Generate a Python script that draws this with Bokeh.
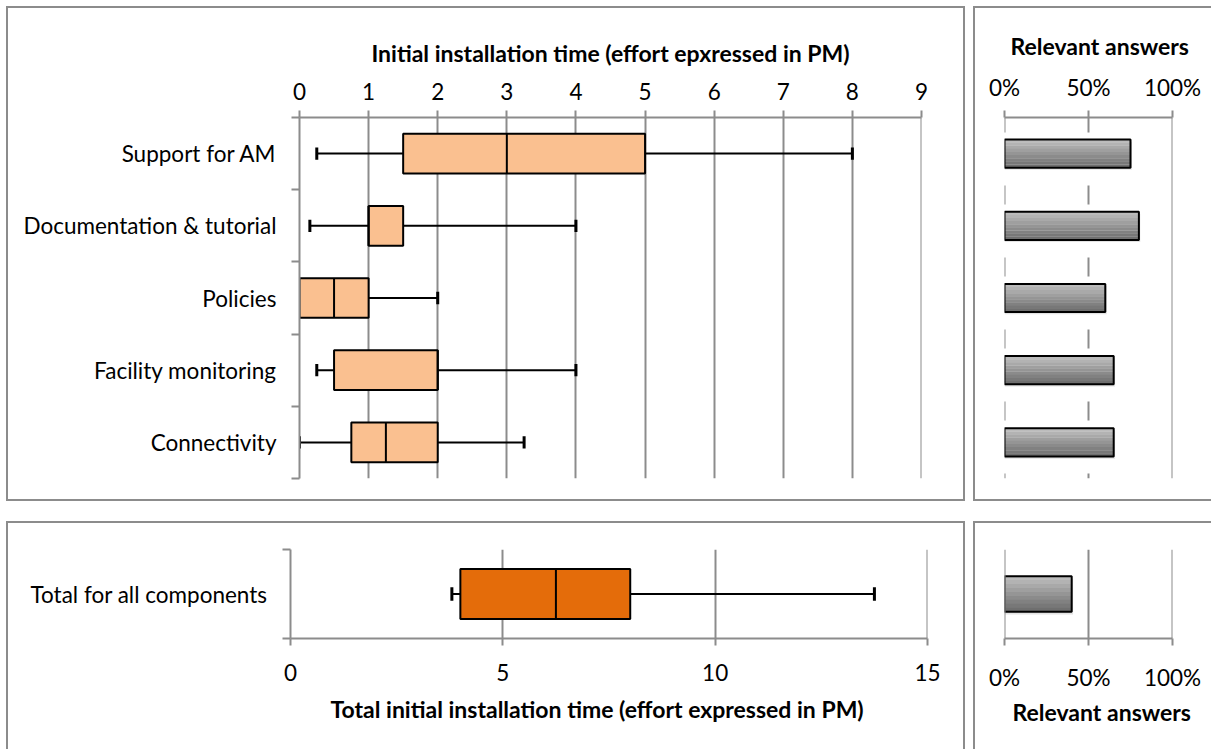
from bokeh.plotting import figure
from bokeh.layouts import row, column
from bokeh.models import Range1d, FixedTicker, NumeralTickFormatter, Span, Title
from bokeh.embed import file_html
from bokeh.resources import INLINE

# ---------------- data ----------------
categories = ["Support for AM", "Documentation & tutorial", "Policies",
              "Facility monitoring", "Connectivity"]
whisker_low = [0.25, 0.15, 0.0, 0.25, 0.0]
q1 = [1.5, 1.0, 0.0, 0.5, 0.75]
median = [3.0, 1.0, 0.5, 2.0, 1.25]
q3 = [5.0, 1.5, 1.0, 2.0, 2.0]
whisker_high = [8.0, 4.0, 2.0, 4.0, 3.25]
relevant = [0.75, 0.80, 0.60, 0.65, 0.65]

total_category = ["Total for all components"]
total_low = [3.8]
total_q1 = [4.0]
total_median = [6.25]
total_q3 = [8.0]
total_high = [13.75]
total_relevant = [0.40]

x_ticks_top = [0, 1, 2, 3, 4, 5, 6, 7, 8, 9]
x_ticks_total = [0, 5, 10, 15]
pct_ticks = [0, 0.5, 1.0]

title_top = "Initial installation time (effort epxressed in PM)"
title_total = "Total initial installation time (effort expressed in PM)"
title_rel = "Relevant answers"

# ---------------- styles ----------------
FONT = "Lato"
GRAY = "#8c8c8c"
PEACH = "#fac090"
ORANGE = "#e46c0a"
LBL = "22.5px"
TTL = "23px"
BORDER = "2px solid #8c8c8c"


def base_fig(w, h, xr, yr, xloc, mb, border_styles):
    p = figure(width=w, height=h, x_range=xr, y_range=yr, x_axis_location=xloc,
               output_backend="svg", toolbar_location=None,
               min_border_left=mb[0], min_border_right=mb[1],
               min_border_top=mb[2], min_border_bottom=mb[3],
               styles=border_styles)
    p.outline_line_color = None
    p.background_fill_color = "white"
    p.border_fill_color = "white"
    p.ygrid.visible = False
    return p


def style_xaxis(ax, ticks, side_title, lbl_standoff, ttl_standoff, formatter=None):
    ax.ticker = FixedTicker(ticks=ticks)
    if formatter is not None:
        ax.formatter = formatter
    ax.axis_line_color = GRAY
    ax.axis_line_width = 2
    ax.major_tick_line_color = GRAY
    ax.major_tick_line_width = 2
    ax.major_tick_out = 7
    ax.major_tick_in = 0
    ax.minor_tick_line_color = None
    ax.major_label_text_font = FONT
    ax.major_label_text_font_size = LBL
    ax.major_label_text_color = "black"
    ax.major_label_standoff = lbl_standoff
    if side_title:
        ax.axis_label = side_title
        ax.axis_label_text_font = FONT
        ax.axis_label_text_font_style = "bold"
        ax.axis_label_text_font_size = TTL
        ax.axis_label_text_color = "black"
        ax.axis_label_standoff = ttl_standoff


def style_catyaxis(ax, cats):
    centers = [i + 0.5 for i in range(len(cats))]
    bounds = [float(i) for i in range(len(cats) + 1)]
    ax.ticker = FixedTicker(ticks=centers, minor_ticks=bounds)
    ax.major_label_overrides = {c: n for c, n in zip(centers, cats)}
    ax.axis_line_color = GRAY
    ax.axis_line_width = 2
    ax.major_tick_line_color = None
    ax.major_tick_out = 0
    ax.major_tick_in = 0
    ax.minor_tick_line_color = GRAY
    ax.minor_tick_line_width = 2
    ax.minor_tick_out = 8
    ax.minor_tick_in = 0
    ax.major_label_text_font = FONT
    ax.major_label_text_font_size = LBL
    ax.major_label_text_color = "black"
    ax.major_label_standoff = 15


def side_title(p, text, place, offset, standoff):
    t = Title(text=text, align="left", offset=offset, standoff=standoff,
              text_font=FONT, text_font_size=TTL, text_font_style="bold",
              text_color="black")
    p.add_layout(t, place)


def draw_boxes(p, ypos, lo, a, med, b, hi, color, box_h, cap_h):
    p.segment(x0=lo, y0=ypos, x1=a, y1=ypos, line_color="black", line_width=2)
    p.segment(x0=b, y0=ypos, x1=hi, y1=ypos, line_color="black", line_width=2)
    p.segment(x0=lo, y0=[y - cap_h for y in ypos], x1=lo, y1=[y + cap_h for y in ypos],
              line_color="black", line_width=3)
    p.segment(x0=hi, y0=[y - cap_h for y in ypos], x1=hi, y1=[y + cap_h for y in ypos],
              line_color="black", line_width=3)
    p.hbar(y=ypos, left=a, right=b, height=box_h, fill_color=color,
           line_color="black", line_width=2)
    p.segment(x0=med, y0=[y - box_h / 2 for y in ypos], x1=med,
              y1=[y + box_h / 2 for y in ypos], line_color="black", line_width=2)


def draw_gradient_bars(p, ypos, vals, h):
    shades = ["#bcbcbc", "#b3b3b3", "#a9a9a9", "#9f9f9f", "#959595",
              "#8b8b8b", "#818181", "#787878", "#6f6f6f"]
    n = len(shades)
    p.hbar(y=[y + 0.03 for y in ypos], left=0, right=[v + 0.008 for v in vals],
           height=h, fill_color="#d0d0d0", fill_alpha=0.6, line_color=None)
    for k, c in enumerate(shades):
        p.hbar(y=[y - h / 2 + (k + 0.5) * h / n for y in ypos], left=0, right=vals,
               height=h / n + 0.002, fill_color=c, line_color=None)
    p.hbar(y=ypos, left=0, right=vals, height=h, fill_color=None,
           line_color="black", line_width=2)


def vline(p, loc, dash="solid", offset=0):
    p.add_layout(Span(location=loc, dimension="height", line_color=GRAY,
                      line_width=2, line_dash=dash, line_dash_offset=offset))


# ---------------- panel 1: component box plots ----------------
n = len(categories)
ypos = [i + 0.5 for i in range(n)]
p1 = base_fig(959, 495, Range1d(0, 9), Range1d(n, 0), "above", (291, 46, 109, 25),
              {"border": BORDER})
style_xaxis(p1.xaxis[0], x_ticks_top, title_top, 11, 13)
style_catyaxis(p1.yaxis[0], categories)
p1.xgrid.ticker = FixedTicker(ticks=x_ticks_top)
p1.xgrid.grid_line_color = GRAY
p1.xgrid.grid_line_width = 2
vline(p1, x_ticks_top[-1])
draw_boxes(p1, ypos, whisker_low, q1, median, q3, whisker_high, PEACH, 0.55, 0.085)

# ---------------- panel 2: relevant answers (components) ----------------
p2 = base_fig(238, 495, Range1d(0, 1), Range1d(n, 0), "above", (29, 41, 109, 25),
              {"border": BORDER, "border-right": "none"})
style_xaxis(p2.xaxis[0], pct_ticks, None, 10, 14, NumeralTickFormatter(format="0%"))
side_title(p2, title_rel, "above", 6, 22)
p2.yaxis.visible = False
p2.xgrid.ticker = FixedTicker(ticks=pct_ticks[:2])
p2.xgrid.grid_line_color = GRAY
p2.xgrid.grid_line_width = 2
p2.xgrid.grid_line_dash = "19 53"
p2.xgrid.grid_line_dash_offset = 4
vline(p2, pct_ticks[0], "19 53", 4)
vline(p2, pct_ticks[-1])
draw_gradient_bars(p2, ypos, relevant, 0.39)

# ---------------- panel 3: total box plot ----------------
yt = [0.5]
p3 = base_fig(959, 228, Range1d(0, 15), Range1d(1, 0), "below", (282, 40, 26, 113),
              {"border": BORDER, "border-bottom": "none"})
style_xaxis(p3.xaxis[0], x_ticks_total, None, 18, 17)
side_title(p3, title_total, "below", 40, 18)
style_catyaxis(p3.yaxis[0], total_category)
p3.xgrid.ticker = FixedTicker(ticks=x_ticks_total)
p3.xgrid.grid_line_color = GRAY
p3.xgrid.grid_line_width = 2
vline(p3, x_ticks_total[-1])
draw_boxes(p3, yt, total_low, total_q1, total_median, total_q3, total_high, ORANGE, 0.56, 0.075)

# ---------------- panel 4: relevant answers (total) ----------------
p4 = base_fig(238, 228, Range1d(0, 1), Range1d(1, 0), "below", (29, 41, 26, 113),
              {"border": BORDER, "border-right": "none", "border-bottom": "none"})
style_xaxis(p4.xaxis[0], pct_ticks, None, 18, 17, NumeralTickFormatter(format="0%"))
side_title(p4, title_rel, "below", 8, 4)
p4.yaxis.visible = False
p4.xgrid.ticker = FixedTicker(ticks=pct_ticks)
p4.xgrid.grid_line_color = GRAY
p4.xgrid.grid_line_width = 2
vline(p4, pct_ticks[0])
vline(p4, pct_ticks[-1])
draw_gradient_bars(p4, yt, total_relevant, 0.40)

layout = column(row(p1, p2, spacing=8), row(p3, p4, spacing=8), spacing=20,
                margin=(6, 0, 0, 6))

open("out.html", "w").write(file_html(layout, INLINE))
